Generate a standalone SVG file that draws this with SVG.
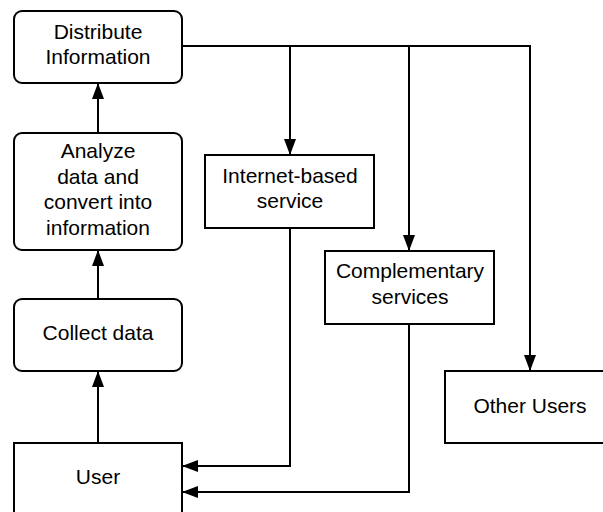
<svg xmlns="http://www.w3.org/2000/svg" width="603" height="512" viewBox="0 0 603 512">
<style>
.n{fill:#fff;stroke:#000;stroke-width:2}
.t{font-family:"Liberation Sans",Arial,sans-serif;font-size:21px;fill:#000;text-anchor:middle}
.c{fill:none;stroke:#000;stroke-width:2}
</style>
<defs>
<marker id="a" viewBox="0 0 16 12" refX="16" refY="6" markerWidth="16" markerHeight="12" markerUnits="userSpaceOnUse" orient="auto">
<path d="M0,0 L16,6 L0,12 Z" fill="#000"/>
</marker>
</defs>
<rect width="603" height="512" fill="#fff"/>
<g id="connectors">
<path class="c" d="M182,46 H530 V371" marker-end="url(#a)"/>
<path class="c" d="M290,46 V155" marker-end="url(#a)"/>
<path class="c" d="M409,46 V251" marker-end="url(#a)"/>
<path class="c" d="M290,228 V466 H182" marker-end="url(#a)"/>
<path class="c" d="M409,324 V492 H182" marker-end="url(#a)"/>
<path class="c" d="M98,443 V371" marker-end="url(#a)"/>
<path class="c" d="M98,299 V250" marker-end="url(#a)"/>
<path class="c" d="M98,133 V83" marker-end="url(#a)"/>
</g>
<g id="distribute">
<rect class="n" x="14" y="11" width="168" height="72" rx="8"/>
<text class="t" x="98" y="39">Distribute</text>
<text class="t" x="98" y="64">Information</text>
</g>
<g id="analyze">
<rect class="n" x="14" y="133" width="168" height="117" rx="8"/>
<text class="t" x="98" y="158">Analyze</text>
<text class="t" x="98" y="184">data and</text>
<text class="t" x="98" y="209">convert into</text>
<text class="t" x="98" y="235">information</text>
</g>
<g id="collect">
<rect class="n" x="14" y="299" width="168" height="72" rx="8"/>
<text class="t" x="98" y="340">Collect data</text>
</g>
<g id="user">
<rect class="n" x="14" y="443" width="168" height="80"/>
<text class="t" x="98" y="484">User</text>
</g>
<g id="internet">
<rect class="n" x="205" y="155" width="169" height="73"/>
<text class="t" x="290" y="183">Internet-based</text>
<text class="t" x="290" y="208">service</text>
</g>
<g id="complementary">
<rect class="n" x="325" y="251" width="169" height="73"/>
<text class="t" x="410" y="278">Complementary</text>
<text class="t" x="410" y="304">services</text>
</g>
<g id="other">
<rect class="n" x="445" y="371" width="170" height="72"/>
<text class="t" x="530" y="413">Other Users</text>
</g>
</svg>
